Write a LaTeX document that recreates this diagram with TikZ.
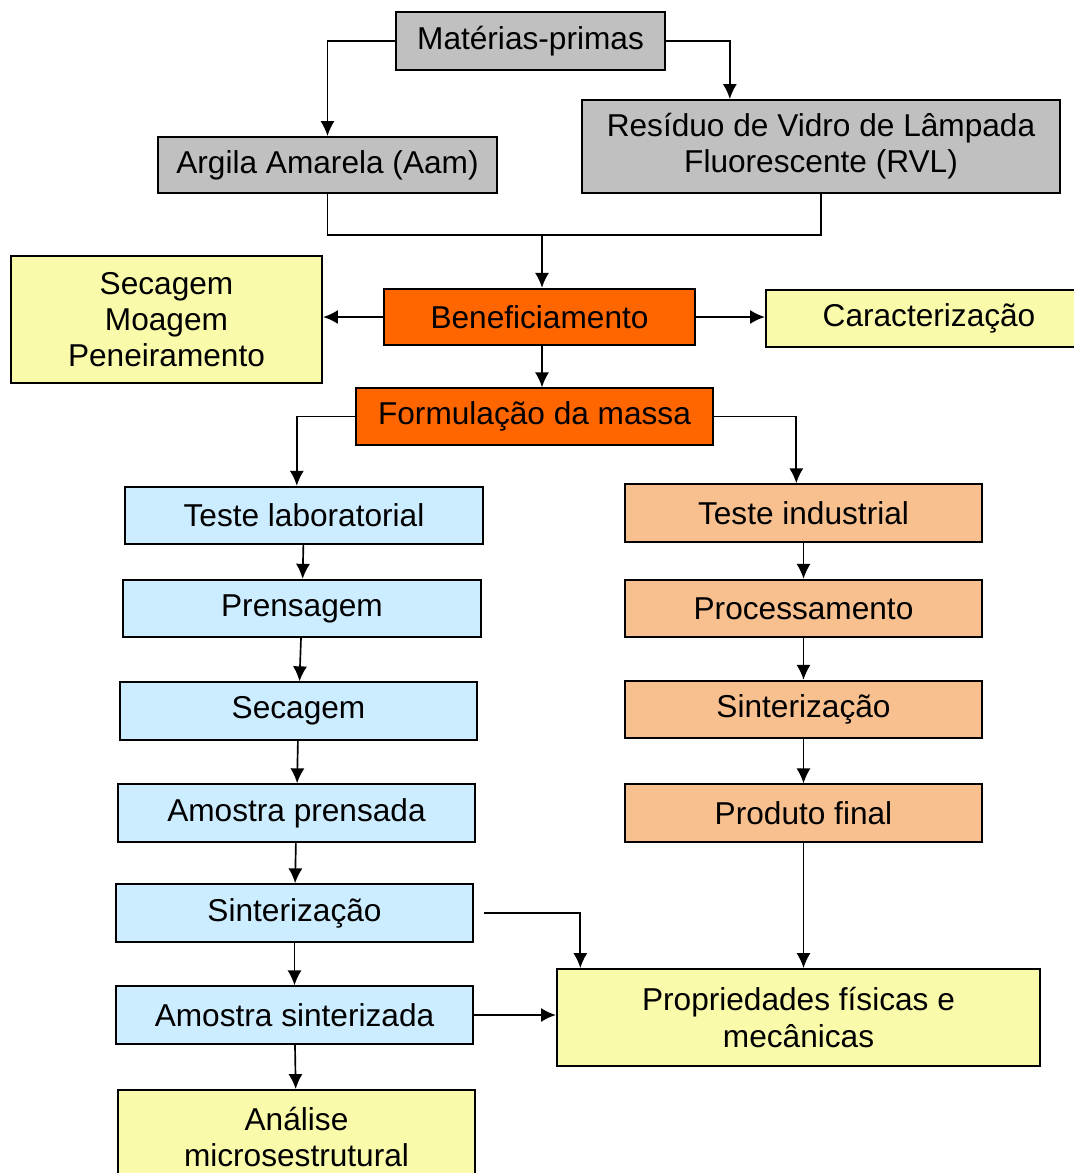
\documentclass[tikz,border=0pt]{standalone}
\usepackage{fontspec}
\setmainfont{Liberation Sans}
\usetikzlibrary{arrows.meta, calc, positioning}

\definecolor{cgray}{HTML}{C0C0C0}
\definecolor{corange}{HTML}{FF6600}
\definecolor{cblue}{HTML}{CCECFF}
\definecolor{ctan}{HTML}{F9C08F}
\definecolor{cyellow}{HTML}{F9FBAA}

\begin{document}
\begin{tikzpicture}[x=0.02cm, y=-0.02cm, >={Latex[length=8.5pt,width=8pt]}, font=\fontsize{18}{20.5}\selectfont,
    box/.style={draw, line width=1.1pt, inner sep=0pt, align=center},
    raw/.style={box, fill=cgray},
    proc/.style={box, fill=corange, minimum height=1.13cm},
    lab/.style={box, fill=cblue, minimum width=7.15cm, minimum height=1.15cm},
    ind/.style={box, fill=ctan, minimum width=7.14cm, minimum height=1.15cm},
    res/.style={box, fill=cyellow},
    link/.style={->, line width=0.95pt},
    thick link/.style={->, line width=1.4pt}]

\useasboundingbox (0,0) rectangle (1073,1173);

% raw materials
\node[raw, minimum width=5.38cm, minimum height=1.16cm] (mp) at (530.5,41) {Matérias-primas};
\node[raw, minimum width=6.78cm, minimum height=1.12cm] (aam) at (327.5,165) {Argila Amarela (Aam)};
\node[raw, minimum width=9.56cm, minimum height=1.86cm] (rvl) at (821,146.5) {Resíduo de Vidro de Lâmpada\\Fluorescente (RVL)};
\coordinate (junc) at (542,235);

% preparation
\node[proc, minimum width=6.22cm] (ben) at (539.5,317) {Beneficiamento};
\node[res, minimum width=6.22cm, minimum height=2.54cm] (sec) at (166.5,319.5) {Secagem\\Moagem\\Peneiramento};
\node[res, minimum width=6.52cm, minimum height=1.14cm] (car) at (929,318.5) {Caracterização};
\node[proc, minimum width=7.14cm] (form) at (534.5,416.5) {Formulação da massa};

% laboratory test
\node[lab] (tl) at (304,515.5) {Teste laboratorial};
\node[lab] (pr) at (302,608.5) {Prensagem};
\node[lab] (se) at (298.5,711) {Secagem};
\node[lab] (ap) at (296.5,813) {Amostra prensada};
\node[lab] (sl) at (294.5,913) {Sinterização};
\node[lab] (as) at (294.5,1015) {Amostra sinterizada};
\node[res, minimum width=7.14cm, minimum height=1.88cm] (an) at (296.5,1137) {Análise\\microsestrutural};

% industrial test
\node[ind] (ti) at (803.5,513) {Teste industrial};
\node[ind] (pc) at (803.5,608.5) {Processamento};
\node[ind] (sr) at (803.5,709.5) {Sinterização};
\node[ind] (pf) at (803.5,813) {Produto final};
\node[res, minimum width=9.66cm, minimum height=1.94cm] (prop) at (798.5,1017.5) {Propriedades físicas e\\mecânicas};

% connectors
\draw[link] (mp.west) -| (aam.north);
\draw[link] (mp.east) -| ($(rvl.north west)!0.31!(rvl.north east)$);
\draw[line width=0.95pt] (aam.south) |- (junc) -| (rvl.south);
\draw[link] (junc) -- (junc |- ben.north);

\draw[thick link] (ben.west) -- (ben.west -| sec.east);
\draw[thick link] (ben.east) -- (ben.east -| car.west);
\draw[link] (ben.south -| junc) -- (form.north -| junc);

\draw[link] (form.west) -| ($(tl.north west)!0.48!(tl.north east)$);
\draw[link] (form.east) -| ($(ti.north west)!0.48!(ti.north east)$);

\draw[link] (tl) -- (pr);
\draw[link] (pr) -- (se);
\draw[link] (se) -- (ap);
\draw[link] (ap) -- (sl);
\draw[link] (sl) -- (as);
\draw[link] (as) -- (an);

\draw[link] (ti) -- (pc);
\draw[link] (pc) -- (sr);
\draw[link] (sr) -- (pf);
\draw[link] (pf) -- (pf |- prop.north);

\draw[link] ([xshift=0.2cm]sl.east) -| ($(prop.north west)!0.05!(prop.north east)$);
\draw[thick link] (as.east) -- (as.east -| prop.west);

\end{tikzpicture}
\end{document}
